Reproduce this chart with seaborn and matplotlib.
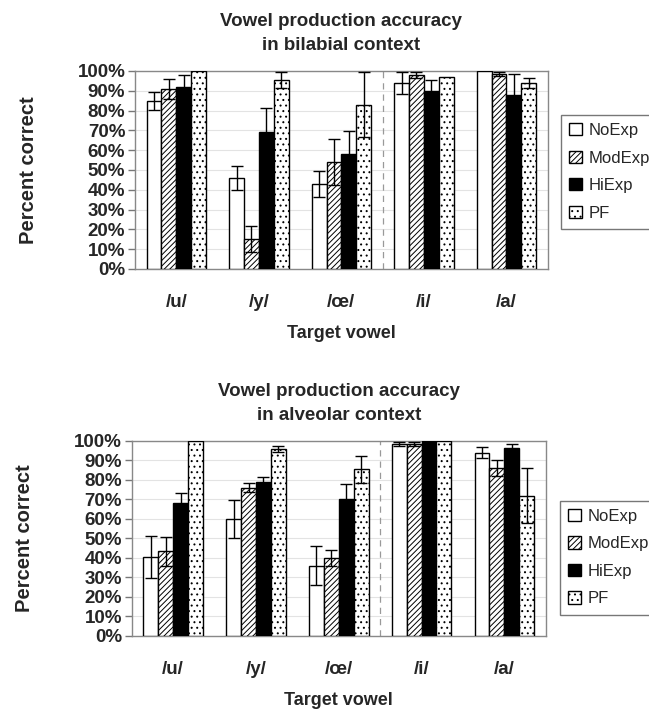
import pandas as pd
import seaborn as sns
import matplotlib.pyplot as plt

# categorias e grupos
vogais = ['/u/', '/y/', '/œ/', '/i/', '/a/']
grupos = ['NoExp', 'ModExp', 'HiExp', 'PF']

# contexto bilabial (% correto e meia barra de erro)
bil_noexp = [85, 46, 43, 94, 100]
bil_modexp = [91, 15, 54, 98, 98.5]
bil_hiexp = [92, 69, 58, 90, 88]
bil_pf = [100, 95.5, 83, 97, 94]
bil_err_noexp = [4.5, 6, 6.5, 5.5, 0]
bil_err_modexp = [5, 6.5, 11.5, 1.5, 1.2]
bil_err_hiexp = [6, 12.5, 11.5, 5.5, 10.5]
bil_err_pf = [0, 4, 16.5, 0, 2.5]

# contexto alveolar
alv_noexp = [40.5, 60, 36, 98.5, 94]
alv_modexp = [43.5, 76, 40, 98.5, 86]
alv_hiexp = [68, 79, 70, 100, 96.5]
alv_pf = [100, 96, 85.5, 100, 72]
alv_err_noexp = [11, 9.7, 10, 1, 2.7]
alv_err_modexp = [7.5, 2.3, 4.3, 1.2, 4]
alv_err_hiexp = [5.5, 2.4, 7.8, 0, 2.1]
alv_err_pf = [0, 1.5, 7, 0, 14]

sns.set_style("white")
plt.rcParams['font.family'] = ['Liberation Sans', 'DejaVu Sans']
plt.rcParams['hatch.linewidth'] = 0.7

cores = ['white', 'white', 'black', 'white']
hachuras = ['', '//////', '', '...']


def plot_painel(ax, valores, erros, titulo, leg_pos):
    linhas = []
    for g, vals in zip(grupos, valores):
        for v, val in zip(vogais, vals):
            linhas.append({'vogal': v, 'grupo': g, 'pct': val})
    df = pd.DataFrame(linhas)

    sns.barplot(data=df, x='vogal', y='pct', hue='grupo', order=vogais, hue_order=grupos,
                palette=cores, edgecolor='black', linewidth=1, width=0.72,
                errorbar=None, legend=False, ax=ax, zorder=3)

    # hachuras e barras de erro
    for cont, hatch, errs in zip(ax.containers, hachuras, erros):
        for bar, e in zip(cont.patches, errs):
            bar.set_hatch(hatch)
            bar.set_edgecolor('black')
            if e > 0:
                xc = bar.get_x() + bar.get_width() / 2
                ax.errorbar(xc, bar.get_height(), yerr=e, color='black', lw=1,
                            capsize=4, capthick=1, zorder=4)

    ax.axvline(2.5, color='#999999', ls=(0, (5, 4)), lw=0.9, zorder=2)

    ax.set_ylim(0, 100)
    ax.set_xlim(-0.5, 4.5)
    ax.set_yticks(range(0, 101, 10))
    ax.set_yticklabels([f'{t}%' for t in range(0, 101, 10)], fontweight='bold', fontsize=13.5)
    ax.set_xticks(range(5))
    ax.set_xticklabels(vogais, fontweight='bold', fontsize=13.5)
    ax.tick_params(axis='x', length=0, pad=18)
    ax.tick_params(axis='y', length=5, width=1, color='#777777', direction='out', pad=2, left=True)
    ax.yaxis.grid(True, color='#e3e3e3', lw=0.8, zorder=0)
    ax.set_axisbelow(True)
    for sp in ax.spines.values():
        sp.set_color('#888888')
        sp.set_linewidth(1)

    ax.set_xlabel('Target vowel', fontweight='bold', fontsize=13, labelpad=10)
    ax.set_ylabel('Percent correct', fontweight='bold', fontsize=14.5)
    ax.yaxis.set_label_coords(-0.235, 0.5)
    ax.set_title(titulo, fontweight='bold', fontsize=13.5, linespacing=1.55, pad=15)

    ax.legend(ax.containers, grupos, loc='upper left', bbox_to_anchor=leg_pos,
              bbox_transform=ax.figure.transFigure, frameon=True, fancybox=False,
              edgecolor='#555555', fontsize=12, handlelength=0.75, handleheight=0.75,
              handletextpad=0.4, labelspacing=0.75, borderpad=0.5, borderaxespad=0)


fig = plt.figure(figsize=(6.49, 7.09), dpi=100)
ax1 = fig.add_axes([0.208, 0.6206, 0.636, 0.2793])
ax2 = fig.add_axes([0.203, 0.103, 0.638, 0.275])

plot_painel(ax1, [bil_noexp, bil_modexp, bil_hiexp, bil_pf],
            [bil_err_noexp, bil_err_modexp, bil_err_hiexp, bil_err_pf],
            'Vowel production accuracy\nin bilabial context', (0.864, 0.838))
plot_painel(ax2, [alv_noexp, alv_modexp, alv_hiexp, alv_pf],
            [alv_err_noexp, alv_err_modexp, alv_err_hiexp, alv_err_pf],
            'Vowel production accuracy\nin alveolar context', (0.863, 0.294))

fig.savefig('out.png', dpi=100)
